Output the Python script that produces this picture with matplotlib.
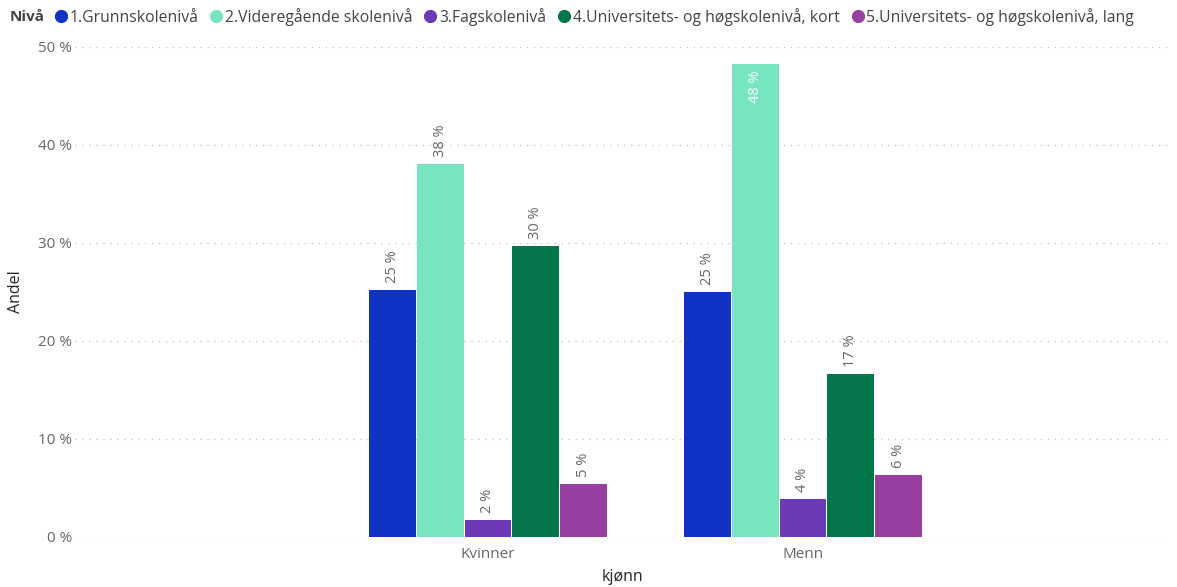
import matplotlib
matplotlib.use("Agg")
import matplotlib.pyplot as plt
from matplotlib.lines import Line2D
import numpy as np

plt.rcParams['font.family'] = ['Open Sans', 'DejaVu Sans']

categories = ['Kvinner', 'Menn']
series_names = ['1.Grunnskolenivå', '2.Videregående skolenivå', '3.Fagskolenivå',
                '4.Universitets- og høgskolenivå, kort', '5.Universitets- og høgskolenivå, lang']
kvinner = [25.2, 38.1, 1.7, 29.7, 5.4]
menn = [25.0, 48.3, 3.9, 16.6, 6.3]
colors = ['#1033C4', '#77E6BE', '#6C3AB6', '#04774A', '#983FA2']
yticks = [0, 10, 20, 30, 40, 50]

values = np.array([kvinner, menn])  # rows: category, cols: series

fig = plt.figure(figsize=(11.77, 5.87), dpi=100)
ax = fig.add_axes([75/1177, 1 - 537/587, (1170-75)/1177, (537-47)/587])

x = np.arange(len(categories))
n = len(series_names)
w = 0.755 / n
grey = '#666666'
for i in range(n):
    pos = x - 0.755/2 + w*(i + 0.5)
    vals = values[:, i]
    ax.bar(pos, vals, width=w*0.985, color=colors[i], zorder=3)
    for p, v in zip(pos, vals):
        lab = '%d %%' % round(v)
        if v > 45:
            ax.annotate(lab, (p, v), xytext=(0, -5), textcoords='offset points',
                        rotation=90, ha='center', va='top', color='white', fontsize=10.5)
        else:
            ax.annotate(lab, (p, v), xytext=(0, 5), textcoords='offset points',
                        rotation=90, ha='center', va='bottom', color=grey, fontsize=10.5)

ax.set_xlim((75-488)/315, (1170-488)/315)
ax.set_ylim(0, 50)
ax.set_yticks(yticks)
ax.set_yticklabels(['%d %%' % t for t in yticks])
ax.set_xticks(x)
ax.set_xticklabels(categories)
ax.tick_params(axis='both', length=0, colors=grey, labelsize=11)
ax.tick_params(axis='y', pad=2)
ax.tick_params(axis='x', pad=7)
ax.grid(axis='y', linestyle=(0, (1, 4)), color='#c8c8c8', linewidth=1, zorder=0)
for s in ax.spines.values():
    s.set_visible(False)

ax.set_ylabel('Andel', fontsize=11.5, color='#252423', labelpad=10)
ax.set_xlabel('kjønn', fontsize=11.5, color='#252423', labelpad=5)

fig.text(10/1177, 1 - 17/587, 'Nivå', fontsize=11, fontweight='bold', color='#444444', va='center')
handles = [Line2D([], [], marker='o', linestyle='', color=c, markersize=8.5) for c in colors]
fig.legend(handles, series_names, loc='center left', bbox_to_anchor=(56/1177, 1 - 17/587),
           ncol=5, frameon=False, handlelength=0.6, handletextpad=0.25, columnspacing=0.85,
           borderaxespad=0, borderpad=0, labelcolor='#444444', fontsize=11.3)

fig.savefig('out.png', dpi=100)
